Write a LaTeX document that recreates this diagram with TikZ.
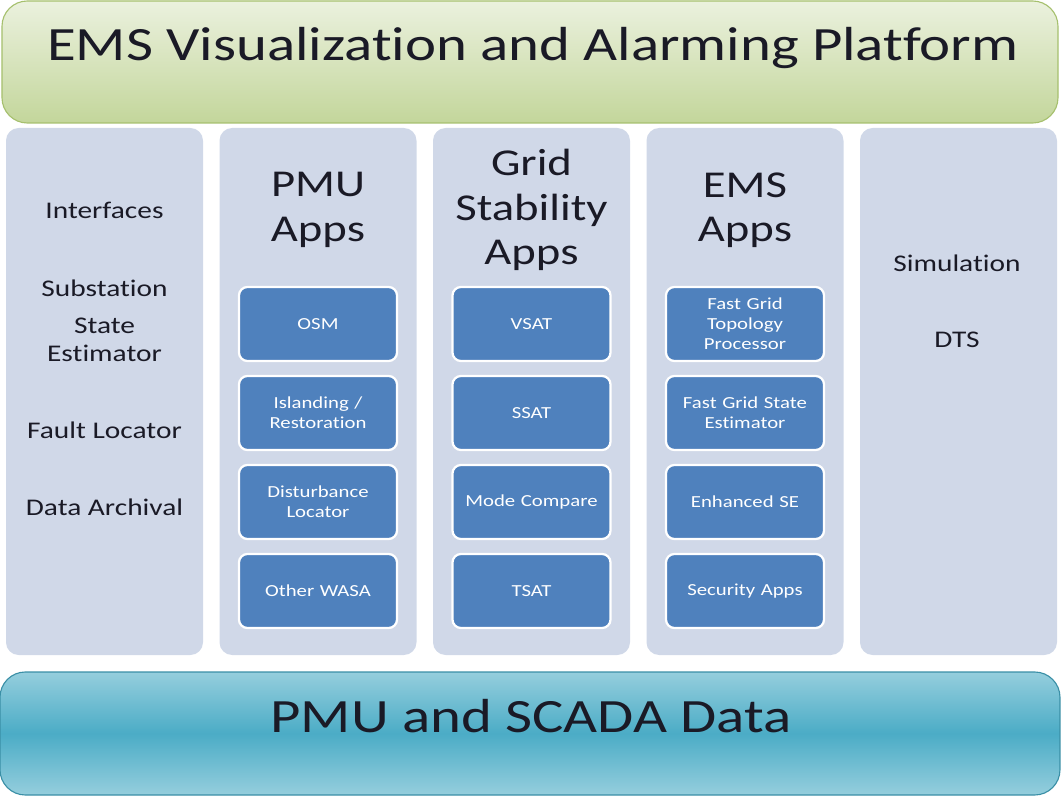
\documentclass[tikz,border=0pt]{standalone}
\usepackage{fontspec}
\setmainfont{Carlito}[FakeStretch=1.23,Ligatures=NoCommon]
\usetikzlibrary{positioning}
\definecolor{colfill}{HTML}{D0D8E8}
\definecolor{appblue}{HTML}{4F81BD}
\definecolor{lightgreen}{HTML}{EBF1DE}
\definecolor{midgreen}{HTML}{C3D69B}
\definecolor{edgegreen}{HTML}{A6C06E}
\definecolor{lightteal}{HTML}{95CEDD}
\definecolor{midteal}{HTML}{4BACC6}
\definecolor{edgeteal}{HTML}{3A8FA6}
\definecolor{inktext}{HTML}{1A1A26}

\begin{document}
\begin{tikzpicture}[
 col/.style={rounded corners=9pt,fill=colfill,minimum width=4.925cm,minimum height=13.175cm,inner sep=0pt},
 app/.style={rounded corners=6pt,draw=white,line width=1.6pt,fill=appblue,text=white,minimum width=3.95cm,minimum height=1.85cm,text width=3.7cm,align=center,inner sep=0pt,font=\fontsize{12}{14.2}\selectfont},
 head/.style={align=center,text=inktext,font=\fontsize{27}{31.5}\selectfont},
 item/.style={align=center,text=inktext,font=\fontsize{17}{19.5}\selectfont}]
\useasboundingbox (0,0) rectangle (26.575,-19.925);

% platform bar
\node[rounded corners=18pt,draw=edgegreen,line width=0.8pt,top color=lightgreen,bottom color=midgreen,minimum width=26.4cm,minimum height=3.05cm] (platform) at (13.25,-1.55) {};
\node[text=inktext,font=\fontsize{34}{40}\selectfont] (platformtext) at (13.325,-1.2) {EMS Visualization and Alarming Platform};

% columns
\foreach \i/\x in {1/2.6125,2/7.95,3/13.2875,4/18.625,5/23.9625}
  \node[col] (col\i) at (\x,-9.7875) {};

\node[item] (interfaces) at (2.6125,-5.25) {Interfaces};
\node[item] (substation) at (2.6125,-7.2) {Substation};
\node[item] (stateest) at (2.6125,-8.5) {State\\Estimator};
\node[item] (fault) at (2.6125,-10.75) {Fault Locator};
\node[item] (archival) at (2.6125,-12.675) {Data Archival};

\node[head] (pmuhead) at (7.95,-5.25) {PMU\\Apps};
\node[head] (gridhead) at (13.2875,-5.25) {Grid\\Stability\\Apps};
\node[head] (emshead) at (18.625,-5.25) {EMS\\Apps};

\node[item] (simulation) at (23.925,-6.575) {Simulation};
\node[item] (dts) at (23.925,-8.5) {DTS};

% PMU apps
\node[app] (osm) at (7.95,-8.1) {OSM};
\node[app] (island) at (7.95,-10.325) {Islanding /\\Restoration};
\node[app] (disturb) at (7.95,-12.55) {Disturbance\\Locator};
\node[app] (wasa) at (7.95,-14.775) {Other WASA};

% grid stability apps
\node[app] (vsat) at (13.2875,-8.1) {VSAT};
\node[app] (ssat) at (13.2875,-10.325) {SSAT};
\node[app] (mode) at (13.2875,-12.55) {Mode Compare};
\node[app] (tsat) at (13.2875,-14.775) {TSAT};

% EMS apps
\node[app] (topo) at (18.625,-8.1) {Fast Grid\\Topology\\Processor};
\node[app] (fastse) at (18.625,-10.325) {Fast Grid State\\Estimator};
\node[app] (enhse) at (18.625,-12.55) {Enhanced SE};
\node[app] (security) at (18.625,-14.775) {Security Apps};

% data bar
\node[rounded corners=18pt,draw=edgeteal,line width=0.8pt,top color=lightteal,bottom color=lightteal,middle color=midteal,minimum width=26.5cm,minimum height=3.075cm] (data) at (13.25,-18.3375) {};
\node[text=inktext,font=\fontsize{34}{40}\selectfont] (datatext) at (13.275,-17.9) {PMU and SCADA Data};
\end{tikzpicture}
\end{document}
